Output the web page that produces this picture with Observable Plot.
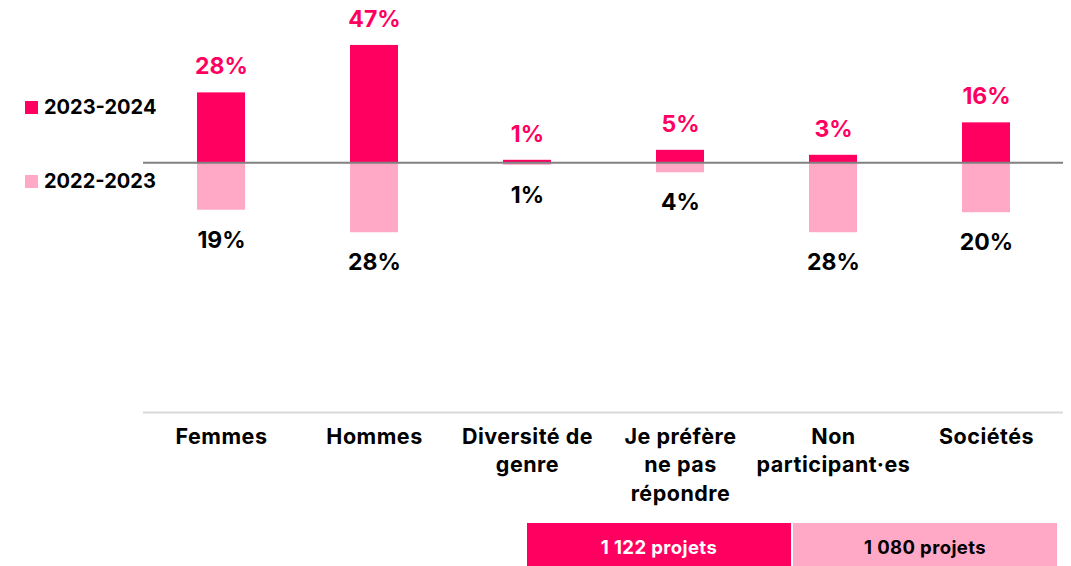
<!DOCTYPE html>
<html>
<head>
<meta charset="utf-8">
<script src="https://cdn.jsdelivr.net/npm/d3@7"></script>
<script src="https://cdn.jsdelivr.net/npm/@observablehq/plot@0.6"></script>
<style>
  html, body { margin: 0; padding: 0; background: #fff; }
  body { width: 1071px; height: 566px; position: relative; overflow: hidden; font-family: Inter, "Open Sans", sans-serif; }
  #chart { position: absolute; left: 0; top: 0; }
  .leg { position: absolute; left: 25px; display: flex; align-items: center; font-weight: 700; font-size: 20px; color: #000; }
  .leg .sw { width: 13px; height: 13px; margin-right: 6px; }
  .box { position: absolute; top: 523px; height: 43px; box-sizing: border-box; padding-top: 5px; display: flex; align-items: center; justify-content: center; font-weight: 700; font-size: 18.5px; letter-spacing: 0.4px; }
</style>
</head>
<body>
<div id="chart"></div>
<div id="legend"></div>
<div id="boxes"></div>
<script>
const categories = ["Femmes", "Hommes", "Diversité de genre", "Je préfère ne pas répondre", "Non participant·es", "Sociétés"];
const tickLabels = ["Femmes", "Hommes", "Diversité de\ngenre", "Je préfère\nne pas\nrépondre", "Non\nparticipant·es", "Sociétés"];
const series = ["2023-2024", "2022-2023"];
const values2324 = [28, 47, 1, 5, 3, 16];
const values2223 = [19, 28, 1, 4, 28, 20];
const projectCounts = ["1 122 projets", "1 080 projets"];

const colorDark = "#ff0060";
const colorLight = "#ffa9c6";

const up = categories.map((c, i) => ({cat: c, v: values2324[i]}));
const down = categories.map((c, i) => ({cat: c, v: -values2223[i], label: values2223[i]}));

const chart = Plot.plot({
  width: 1071,
  height: 566,
  marginLeft: 143,
  marginRight: 8,
  marginTop: 0,
  marginBottom: 154,
  style: {fontFamily: "Inter, 'Open Sans', sans-serif", background: "transparent"},
  x: {domain: categories, paddingInner: 0.687, paddingOuter: 0.3435, label: null},
  y: {domain: [-100, 65], axis: null},
  marks: [
    Plot.ruleY([-100], {stroke: "#d9d9d9", strokeWidth: 2}),
    Plot.barY(up, {x: "cat", y: "v", fill: colorDark}),
    Plot.barY(down, {x: "cat", y: "v", fill: colorLight}),
    Plot.ruleY([0], {stroke: "#808080", strokeWidth: 2}),
    Plot.text(up, {x: "cat", y: "v", text: d => d.v + "%", dy: -26, fill: colorDark, fontSize: 23, fontWeight: 700}),
    Plot.text(down, {x: "cat", y: "v", text: d => d.label + "%", dy: 30, fill: "#000", fontSize: 23, fontWeight: 700}),
    Plot.axisX({
      anchor: "bottom",
      tickSize: 0,
      tickPadding: 11,
      tickFormat: (d) => tickLabels[categories.indexOf(d)],
      fontSize: 21.5,
      fontWeight: 700,
      lineHeight: 1.33,
      fill: "#000"
    })
  ]
});
d3.select(chart).selectAll("g[aria-label='x-axis tick label'] text")
  .style("font-size", "21.5px").style("font-weight", "700").style("letter-spacing", "0.5px");
document.getElementById("chart").appendChild(chart);

// legend
const legend = document.getElementById("legend");
const legTops = [95, 169];
const legColors = [colorDark, colorLight];
series.forEach((s, i) => {
  const d = document.createElement("div");
  d.className = "leg";
  d.style.top = legTops[i] + "px";
  d.innerHTML = `<span class="sw" style="background:${legColors[i]}"></span><span>${s}</span>`;
  legend.appendChild(d);
});

// project count boxes
const boxes = document.getElementById("boxes");
const boxLeft = [527, 793];
const boxWidth = [264, 264];
const boxText = ["#fff", "#000"];
projectCounts.forEach((t, i) => {
  const b = document.createElement("div");
  b.className = "box";
  b.style.left = boxLeft[i] + "px";
  b.style.width = boxWidth[i] + "px";
  b.style.background = legColors[i];
  b.style.color = boxText[i];
  b.textContent = t;
  boxes.appendChild(b);
});
</script>
</body>
</html>
